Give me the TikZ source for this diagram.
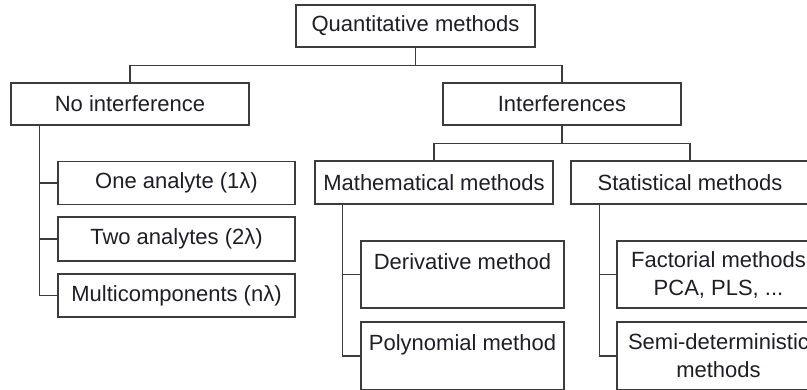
\documentclass[tikz,border=0pt]{standalone}
\usepackage{fontspec}
\setmainfont{Liberation Sans}
\begin{document}
\begin{tikzpicture}[x=1pt,y=-1pt,
  box/.style={draw=linegray, line width=1.2pt, rectangle, inner sep=0pt, align=center,
    text=textcol, font=\fontsize{22}{28}\selectfont},
  link/.style={draw=linegray, line width=1.2pt}]
\definecolor{linegray}{HTML}{3C3C3C}
\definecolor{textcol}{HTML}{1E1E28}
\useasboundingbox (0,0) rectangle (807,389);
\clip (0,0) rectangle (807,389);
\fill[white] (0,0) rectangle (807,389);
% nodes
\node[box, minimum width=239, minimum height=42] (Q) at (415.5,26) {Quantitative methods};
\node[box, minimum width=238, minimum height=42] (NI) at (130,104) {No interference};
\node[box, minimum width=238, minimum height=42] (IN) at (562,104) {Interferences};
\node[box, minimum width=237, minimum height=43] (One) at (176.5,183) {One analyte (1λ)};
\node[box, minimum width=237, minimum height=44] (Two) at (176.5,239) {Two analytes (2λ)};
\node[box, minimum width=237, minimum height=43] (Multi) at (176.5,295.5) {Multicomponents (nλ)};
\node[box, minimum width=238, minimum height=43] (Math) at (434,182.5) {Mathematical methods};
\node[box, minimum width=238, minimum height=43] (Stat) at (690,182.5) {Statistical methods};
\node[box, minimum width=203, minimum height=67] (Der) at (462.5,274.5) {Derivative method\\[-3pt]\mbox{}};
\node[box, minimum width=203, minimum height=68] (Poly) at (462.5,356) {Polynomial method\\[-1pt]\mbox{}};
\node[box, minimum width=203, minimum height=67] (Fac) at (718.5,274.5) {Factorial methods\\PCA, PLS, ...};
\node[box, minimum width=203, minimum height=68] (Semi) at (718.5,356) {Semi-deterministic\\methods};
% connectors
\draw[link] (Q.south) -- ++(0,18) coordinate (qj);
\draw[link] (NI.north) |- (qj) -| (IN.north);
\draw[link] (IN.south) -- ++(0,18) coordinate (ij);
\draw[link] (Math.north) |- (ij) -| (Stat.north);
\coordinate (nis) at ([xshift=29pt]NI.south west);
\draw[link] (nis) |- (Multi.west);
\draw[link] (nis |- One.west) -- (One.west);
\draw[link] (nis |- Two.west) -- (Two.west);
\coordinate (mts) at ([xshift=28pt]Math.south west);
\draw[link] (mts) |- (Poly.west);
\draw[link] (mts |- Der.west) -- (Der.west);
\coordinate (sts) at ([xshift=29pt]Stat.south west);
\draw[link] (sts) |- (Semi.west);
\draw[link] (sts |- Fac.west) -- (Fac.west);
\end{tikzpicture}
\end{document}
